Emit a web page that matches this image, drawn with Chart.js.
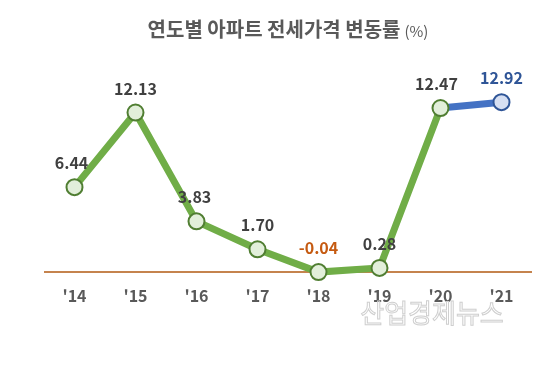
<!DOCTYPE html>
<html>
<head>
<meta charset="utf-8">
<script src="https://cdn.jsdelivr.net/npm/chart.js@4/dist/chart.umd.min.js"></script>
<style>
  html, body { margin: 0; padding: 0; background: #fff; }
  #wrap { position: relative; width: 547px; height: 371px; }
</style>
</head>
<body>
<div id="wrap"><canvas id="rentChart" width="547" height="371"></canvas></div>
<script>
// 연도별 아파트 전세가격 변동률 (%)
var years = ["'14", "'15", "'16", "'17", "'18", "'19", "'20", "'21"];
var rates = [6.44, 12.13, 3.83, 1.70, -0.04, 0.28, 12.47, 12.92];
var rateLabels = ["6.44", "12.13", "3.83", "1.70", "-0.04", "0.28", "12.47", "12.92"];

var GREEN = '#70AD47', BLUE = '#4472C4';
var FONT = '"Noto Sans CJK KR", "Noto Sans", sans-serif';

// title + watermark + value labels
var extras = {
    id: 'extras',
    afterDraw: function (chart) {
        var ctx = chart.ctx;
        ctx.save();
        // title
        ctx.textBaseline = 'middle';
        ctx.textAlign = 'left';
        ctx.fillStyle = '#595959';
        ctx.font = 'bold 20px ' + FONT;
        var t1 = '연도별 아파트 전세가격 변동률';
        var w1 = ctx.measureText(t1).width;
        ctx.font = '15px ' + FONT;
        var t2 = '(%)';
        var w2 = ctx.measureText(t2).width;
        var x0 = 288 - (w1 + 4 + w2) / 2;
        ctx.font = 'bold 20px ' + FONT;
        ctx.fillText(t1, x0, 29);
        ctx.font = '15px ' + FONT;
        ctx.fillText(t2, x0 + w1 + 4, 31);

        // watermark
        ctx.font = '26px ' + FONT;
        ctx.textAlign = 'center';
        ctx.strokeStyle = '#cfcfcf';
        ctx.lineWidth = 1;
        ctx.strokeText('산업경제뉴스', 432, 313);

        // value labels
        var meta = chart.getDatasetMeta(0);
        ctx.font = 'bold 16px ' + FONT;
        meta.data.forEach(function (pt, i) {
            var c = '#404040';
            if (rates[i] < 0) c = '#C55A11';
            if (i === rates.length - 1) c = '#2F5597';
            ctx.fillStyle = c;
            var dx = 0;
            if (i === 0) dx = -3;
            if (i === 2) dx = -2;
            if (i === 6) dx = -4;
            ctx.fillText(rateLabels[i], pt.x + dx, pt.y - 24);
        });
        ctx.restore();
    }
};

new Chart(document.getElementById('rentChart'), {
    type: 'line',
    data: {
        labels: years,
        datasets: [{
            data: rates,
            borderColor: GREEN,
            borderWidth: 7,
            tension: 0,
            segment: {
                borderColor: function (c) { return c.p1DataIndex === rates.length - 1 ? BLUE : GREEN; }
            },
            pointRadius: 8,
            pointBorderWidth: 2,
            pointBackgroundColor: rates.map(function (v, i) { return i === rates.length - 1 ? '#D6DFF2' : '#E2EFDA'; }),
            pointBorderColor: rates.map(function (v, i) { return i === rates.length - 1 ? '#2F5597' : '#507E32'; }),
            clip: false
        }]
    },
    options: {
        responsive: false,
        animation: false,
        layout: { padding: { left: 44, right: 15, top: 88, bottom: 65 } },
        plugins: { legend: { display: false }, tooltip: { enabled: false } },
        scales: {
            x: {
                offset: true,
                grid: { display: false },
                border: { display: false },
                ticks: { color: '#595959', padding: 0, font: { family: FONT, size: 16, weight: 'bold' } }
            },
            y: {
                min: -0.55,
                max: 14,
                afterBuildTicks: function (scale) { scale.ticks = [{ value: 0 }]; },
                ticks: { display: false },
                border: { display: false },
                grid: { drawTicks: false, color: '#C5834E', lineWidth: 2 }
            }
        }
    },
    plugins: [extras]
});
</script>
</body>
</html>
